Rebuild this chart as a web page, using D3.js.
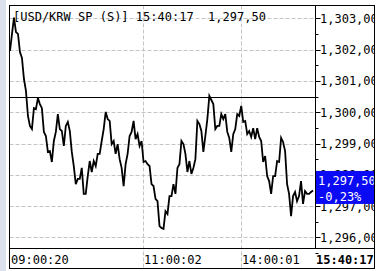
<!DOCTYPE html>
<html>
<head>
<meta charset="utf-8">
<script src="https://cdn.jsdelivr.net/npm/d3@7"></script>
<style>
  body { margin: 0; background: #fff; }
  svg { display: block; }
  text { font-family: "DejaVu Sans Mono", monospace; font-size: 12px; }
</style>
</head>
<body>
<div id="chart"></div>
<script>
// 1. The data (ticks, oldest first)
const prices = [
  1301.96, 1302.50, 1303.02, 1302.56, 1302.50, 1301.92, 1301.73, 1301.06, 1300.68, 1299.88,
  1299.56, 1299.46, 1300.13, 1300.10, 1300.45, 1300.26, 1300.13, 1299.37, 1299.24, 1298.73,
  1298.76, 1298.41, 1299.08, 1299.37, 1299.94, 1299.46, 1299.40, 1298.92, 1299.56, 1299.69,
  1299.40, 1298.73, 1298.28, 1297.70, 1297.87, 1297.87, 1298.22, 1297.39, 1297.39, 1297.96,
  1298.44, 1298.09, 1298.44, 1298.28, 1298.67, 1298.67, 1299.08, 1299.46, 1300.01, 1299.78,
  1299.72, 1298.98, 1299.08, 1298.67, 1298.98, 1298.50, 1298.22, 1297.64, 1298.34, 1298.67,
  1299.24, 1299.37, 1299.72, 1299.14, 1299.30, 1298.92, 1299.08, 1298.41, 1298.44, 1298.34,
  1298.28, 1297.70, 1297.64, 1297.23, 1297.16, 1296.36, 1296.30, 1296.27, 1296.84, 1296.75,
  1297.32, 1297.32, 1297.70, 1297.39, 1298.22, 1298.34, 1299.08, 1298.98, 1298.67, 1298.09,
  1298.44, 1298.03, 1298.22, 1298.50, 1299.72, 1299.62, 1299.40, 1298.73, 1299.24, 1299.78,
  1300.52, 1300.39, 1300.26, 1299.46, 1299.56, 1299.56, 1299.94, 1299.78, 1299.94, 1299.37,
  1299.18, 1298.73, 1299.30, 1299.46, 1299.94, 1299.88, 1300.20, 1299.69, 1299.72, 1299.30,
  1299.40, 1299.21, 1299.49, 1299.14, 1299.49, 1299.21, 1299.08, 1298.41, 1298.60, 1297.96,
  1297.80, 1297.39, 1297.96, 1297.96, 1298.44, 1298.41, 1299.18, 1299.05, 1298.76, 1297.70,
  1297.39, 1296.68, 1297.32, 1297.45, 1297.16, 1297.32, 1297.80, 1297.07, 1297.48, 1297.39,
  1297.39, 1297.45, 1297.50
];
const prevClose = 1300.50;
const lastPrice = 1297.50;
const changeLabel = "-0,23%";
const lastTime = "15:40:17";
const symbol = "[USD/KRW SP (S)]";

// price axis ticks and time axis labels (by tick index)
const yTicks = [1296, 1297, 1298, 1299, 1300, 1301, 1302, 1303];
const yMinorTicks = [1295.5, 1296.5, 1297.5, 1298.5, 1299.5, 1300.5, 1301.5, 1302.5, 1303.5];
const xTickIndex = [0, 66.5, 116];
const xTickLabels = ["09:00:20", "11:00:02", "14:00:01"];

// 2. Layout
const WIDTH = 377;
const HEIGHT = 271;
const LEFT = 9.5, TOP = 5.5, PLOT_RIGHT = 315.5, PLOT_BOTTOM = 248.5;
const FRAME_RIGHT = 374.5, FRAME_BOTTOM = 268.5;

// comma as decimal mark, like the terminal shows it
const locale = d3.formatLocale({ decimal: ",", thousands: ",", grouping: [3], currency: ["", ""] });
const fmt = locale.format(",.2f");

const svg = d3.select("#chart").append("svg")
  .attr("width", WIDTH)
  .attr("height", HEIGHT);

// side strip on the left
svg.append("rect").attr("x", 0).attr("y", 0).attr("width", 6).attr("height", HEIGHT).attr("fill", "#dbe2ee");

// scales
const x = d3.scaleLinear().domain([0, prices.length - 1]).range([10, 313]);
const y = d3.scaleLinear().domain([1296, 1303]).range([237.4, 18.3]);

svg.append("defs").append("clipPath").attr("id", "frame-clip")
  .append("rect").attr("x", LEFT).attr("y", TOP)
  .attr("width", FRAME_RIGHT - LEFT).attr("height", FRAME_BOTTOM - TOP);

const g = svg.append("g").attr("clip-path", "url(#frame-clip)");

// horizontal dashed grid
g.selectAll(".hgrid").data(yTicks).enter().append("line")
  .attr("x1", LEFT).attr("x2", PLOT_RIGHT)
  .attr("y1", (d) => Math.round(y(d)) + 0.5).attr("y2", (d) => Math.round(y(d)) + 0.5)
  .attr("stroke", "#c4c4c4").attr("stroke-dasharray", "4,2");

// vertical dashed grid (down through the time labels)
g.selectAll(".vgrid").data(xTickIndex.slice(1)).enter().append("line")
  .attr("x1", (d) => Math.round(x(d)) + 0.5).attr("x2", (d) => Math.round(x(d)) + 0.5)
  .attr("y1", TOP).attr("y2", FRAME_BOTTOM)
  .attr("stroke", "#c4c4c4").attr("stroke-dasharray", "4,2");

// title
g.append("text").attr("x", 13).attr("y", 21).attr("fill", "#000")
  .style("white-space", "pre")
  .text(symbol + " " + lastTime + "  " + fmt(lastPrice));

// previous close reference line
g.append("line")
  .attr("x1", LEFT).attr("x2", PLOT_RIGHT)
  .attr("y1", Math.round(y(prevClose)) + 0.5).attr("y2", Math.round(y(prevClose)) + 0.5)
  .attr("stroke", "#000");

// price line
const line = d3.line().x((d, i) => x(i)).y((d) => y(d));
g.append("path").datum(prices)
  .attr("d", line)
  .attr("fill", "none")
  .attr("stroke", "#000")
  .attr("stroke-width", 1.8);

// right price axis ticks
g.selectAll(".ytick").data(yTicks).enter().append("line")
  .attr("x1", PLOT_RIGHT).attr("x2", PLOT_RIGHT + 5)
  .attr("y1", (d) => Math.round(y(d)) + 0.5).attr("y2", (d) => Math.round(y(d)) + 0.5)
  .attr("stroke", "#000");
g.selectAll(".yminor").data(yMinorTicks).enter().append("line")
  .attr("x1", PLOT_RIGHT).attr("x2", PLOT_RIGHT + 3)
  .attr("y1", (d) => Math.round(y(d)) + 0.5).attr("y2", (d) => Math.round(y(d)) + 0.5)
  .attr("stroke", "#000");
g.selectAll(".ylabel").data(yTicks).enter().append("text")
  .attr("x", 320).attr("y", (d) => y(d) + 4.5)
  .attr("fill", "#000")
  .text((d) => fmt(d));

// last price box
const boxY = y(lastPrice);
g.append("rect")
  .attr("x", PLOT_RIGHT).attr("y", boxY - 19.5)
  .attr("width", FRAME_RIGHT - PLOT_RIGHT + 3).attr("height", 33)
  .attr("fill", "#0a0af5");
g.append("text").attr("x", 318).attr("y", boxY - 5.5).attr("fill", "#fff").text(fmt(lastPrice));
g.append("text").attr("x", 318).attr("y", boxY + 10.5).attr("fill", "#fff").text(changeLabel);

// time labels
g.selectAll(".xlabel").data(xTickIndex).enter().append("text")
  .attr("x", (d) => Math.round(x(d)) + 1)
  .attr("y", 264)
  .attr("fill", "#000")
  .text((d, i) => xTickLabels[i]);
g.append("text").attr("x", 316).attr("y", 264)
  .attr("font-weight", "bold").attr("fill", "#000")
  .text(lastTime);

// frame lines
svg.append("rect")
  .attr("x", LEFT).attr("y", TOP)
  .attr("width", FRAME_RIGHT - LEFT).attr("height", FRAME_BOTTOM - TOP)
  .attr("fill", "none").attr("stroke", "#000");
svg.append("line").attr("x1", PLOT_RIGHT).attr("x2", PLOT_RIGHT)
  .attr("y1", TOP).attr("y2", PLOT_BOTTOM).attr("stroke", "#000");
svg.append("line").attr("x1", LEFT).attr("x2", FRAME_RIGHT)
  .attr("y1", PLOT_BOTTOM).attr("y2", PLOT_BOTTOM).attr("stroke", "#000");
</script>
</body>
</html>
